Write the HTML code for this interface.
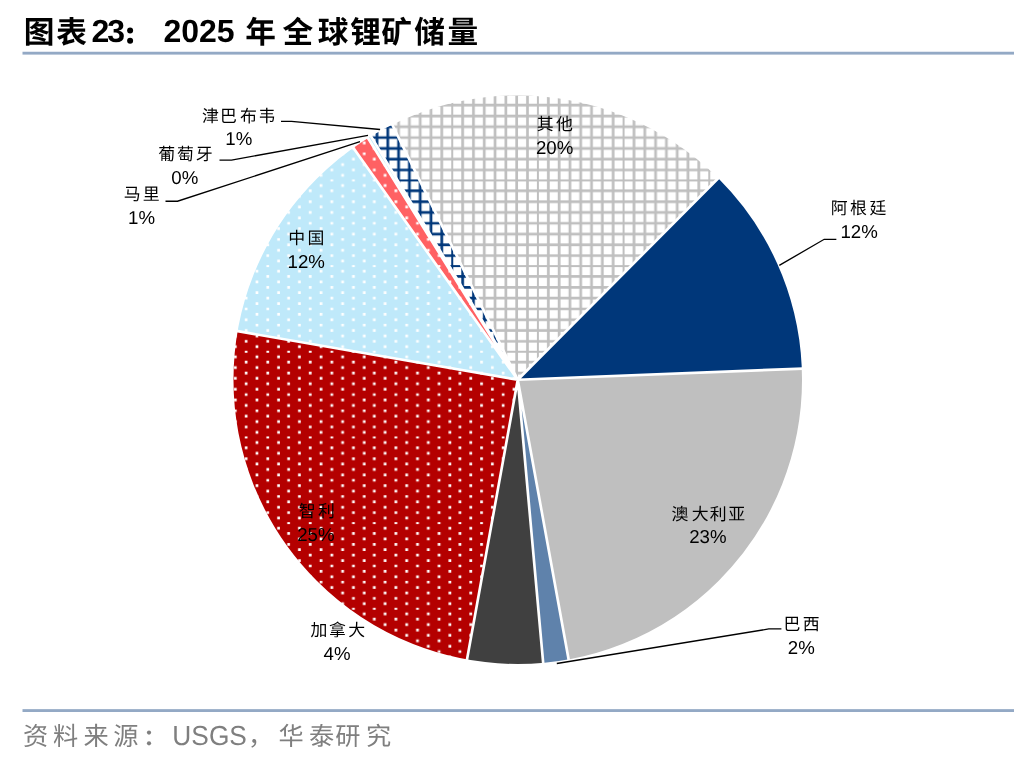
<!DOCTYPE html>
<html><head><meta charset="utf-8"><title>chart</title>
<style>
html,body{margin:0;padding:0;background:#fff}
svg{display:block}
text{font-family:"Liberation Sans","Noto Sans CJK SC",sans-serif;text-rendering:geometricPrecision}
.t{opacity:.999}
.h{fill:none;stroke:none}
</style></head><body>
<svg width="1036" height="760" viewBox="0 0 1036 760" role="img" aria-label="图表23: 2025年全球锂矿储量">
<desc>图表23: 2025年全球锂矿储量 — 其他20%, 阿根廷12%, 澳大利亚23%, 巴西2%, 加拿大4%, 智利25%, 中国12%, 马里1%, 葡萄牙0%, 津巴布韦1%。资料来源:USGS,华泰研究</desc>
<defs>
<pattern id="pRed" patternUnits="userSpaceOnUse" x="22.90" y="8.10" width="85.67" height="85.67"><rect width="86.67" height="86.67" fill="#B40000"/><path d="M7.37 -0.73h2.70v2.70h-2.70zM28.97 -0.73h2.70v2.70h-2.70zM50.57 -0.73h2.70v2.70h-2.70zM72.17 -0.73h2.70v2.70h-2.70zM18.17 4.67h2.70v2.70h-2.70zM39.77 4.67h2.70v2.70h-2.70zM61.37 4.67h2.70v2.70h-2.70zM82.97 4.67h2.70v2.70h-2.70zM7.37 10.07h2.70v2.70h-2.70zM28.97 10.07h2.70v2.70h-2.70zM50.57 10.07h2.70v2.70h-2.70zM72.17 10.07h2.70v2.70h-2.70zM18.17 15.47h2.70v2.70h-2.70zM39.77 15.47h2.70v2.70h-2.70zM61.37 15.47h2.70v2.70h-2.70zM82.97 15.47h2.70v2.70h-2.70zM7.37 20.87h2.70v2.70h-2.70zM28.97 20.87h2.70v2.70h-2.70zM50.57 20.87h2.70v2.70h-2.70zM72.17 20.87h2.70v2.70h-2.70zM18.17 26.27h2.70v2.70h-2.70zM39.77 26.27h2.70v2.70h-2.70zM61.37 26.27h2.70v2.70h-2.70zM82.97 26.27h2.70v2.70h-2.70zM7.37 31.67h2.70v2.70h-2.70zM28.97 31.67h2.70v2.70h-2.70zM50.57 31.67h2.70v2.70h-2.70zM72.17 31.67h2.70v2.70h-2.70zM18.17 37.07h2.70v2.70h-2.70zM39.77 37.07h2.70v2.70h-2.70zM61.37 37.07h2.70v2.70h-2.70zM82.97 37.07h2.70v2.70h-2.70zM7.37 42.47h2.70v2.70h-2.70zM28.97 42.47h2.70v2.70h-2.70zM50.57 42.47h2.70v2.70h-2.70zM72.17 42.47h2.70v2.70h-2.70zM18.17 47.87h2.70v2.70h-2.70zM39.77 47.87h2.70v2.70h-2.70zM61.37 47.87h2.70v2.70h-2.70zM82.97 47.87h2.70v2.70h-2.70zM7.37 53.27h2.70v2.70h-2.70zM28.97 53.27h2.70v2.70h-2.70zM50.57 53.27h2.70v2.70h-2.70zM72.17 53.27h2.70v2.70h-2.70zM18.17 58.67h2.70v2.70h-2.70zM39.77 58.67h2.70v2.70h-2.70zM61.37 58.67h2.70v2.70h-2.70zM82.97 58.67h2.70v2.70h-2.70zM7.37 64.07h2.70v2.70h-2.70zM28.97 64.07h2.70v2.70h-2.70zM50.57 64.07h2.70v2.70h-2.70zM72.17 64.07h2.70v2.70h-2.70zM18.17 69.47h2.70v2.70h-2.70zM39.77 69.47h2.70v2.70h-2.70zM61.37 69.47h2.70v2.70h-2.70zM82.97 69.47h2.70v2.70h-2.70zM7.37 74.87h2.70v2.70h-2.70zM28.97 74.87h2.70v2.70h-2.70zM50.57 74.87h2.70v2.70h-2.70zM72.17 74.87h2.70v2.70h-2.70zM18.17 80.27h2.70v2.70h-2.70zM39.77 80.27h2.70v2.70h-2.70zM61.37 80.27h2.70v2.70h-2.70zM82.97 80.27h2.70v2.70h-2.70z" fill="#fff"/></pattern>
<pattern id="pLblue" patternUnits="userSpaceOnUse" x="22.90" y="8.10" width="85.67" height="85.67"><rect width="86.67" height="86.67" fill="#BFE9FA"/><path d="M7.37 -0.73h2.70v2.70h-2.70zM28.97 -0.73h2.70v2.70h-2.70zM50.57 -0.73h2.70v2.70h-2.70zM72.17 -0.73h2.70v2.70h-2.70zM18.17 4.67h2.70v2.70h-2.70zM39.77 4.67h2.70v2.70h-2.70zM61.37 4.67h2.70v2.70h-2.70zM82.97 4.67h2.70v2.70h-2.70zM7.37 10.07h2.70v2.70h-2.70zM28.97 10.07h2.70v2.70h-2.70zM50.57 10.07h2.70v2.70h-2.70zM72.17 10.07h2.70v2.70h-2.70zM18.17 15.47h2.70v2.70h-2.70zM39.77 15.47h2.70v2.70h-2.70zM61.37 15.47h2.70v2.70h-2.70zM82.97 15.47h2.70v2.70h-2.70zM7.37 20.87h2.70v2.70h-2.70zM28.97 20.87h2.70v2.70h-2.70zM50.57 20.87h2.70v2.70h-2.70zM72.17 20.87h2.70v2.70h-2.70zM18.17 26.27h2.70v2.70h-2.70zM39.77 26.27h2.70v2.70h-2.70zM61.37 26.27h2.70v2.70h-2.70zM82.97 26.27h2.70v2.70h-2.70zM7.37 31.67h2.70v2.70h-2.70zM28.97 31.67h2.70v2.70h-2.70zM50.57 31.67h2.70v2.70h-2.70zM72.17 31.67h2.70v2.70h-2.70zM18.17 37.07h2.70v2.70h-2.70zM39.77 37.07h2.70v2.70h-2.70zM61.37 37.07h2.70v2.70h-2.70zM82.97 37.07h2.70v2.70h-2.70zM7.37 42.47h2.70v2.70h-2.70zM28.97 42.47h2.70v2.70h-2.70zM50.57 42.47h2.70v2.70h-2.70zM72.17 42.47h2.70v2.70h-2.70zM18.17 47.87h2.70v2.70h-2.70zM39.77 47.87h2.70v2.70h-2.70zM61.37 47.87h2.70v2.70h-2.70zM82.97 47.87h2.70v2.70h-2.70zM7.37 53.27h2.70v2.70h-2.70zM28.97 53.27h2.70v2.70h-2.70zM50.57 53.27h2.70v2.70h-2.70zM72.17 53.27h2.70v2.70h-2.70zM18.17 58.67h2.70v2.70h-2.70zM39.77 58.67h2.70v2.70h-2.70zM61.37 58.67h2.70v2.70h-2.70zM82.97 58.67h2.70v2.70h-2.70zM7.37 64.07h2.70v2.70h-2.70zM28.97 64.07h2.70v2.70h-2.70zM50.57 64.07h2.70v2.70h-2.70zM72.17 64.07h2.70v2.70h-2.70zM18.17 69.47h2.70v2.70h-2.70zM39.77 69.47h2.70v2.70h-2.70zM61.37 69.47h2.70v2.70h-2.70zM82.97 69.47h2.70v2.70h-2.70zM7.37 74.87h2.70v2.70h-2.70zM28.97 74.87h2.70v2.70h-2.70zM50.57 74.87h2.70v2.70h-2.70zM72.17 74.87h2.70v2.70h-2.70zM18.17 80.27h2.70v2.70h-2.70zM39.77 80.27h2.70v2.70h-2.70zM61.37 80.27h2.70v2.70h-2.70zM82.97 80.27h2.70v2.70h-2.70z" fill="#fff"/></pattern>
<pattern id="pPink" patternUnits="userSpaceOnUse" x="22.90" y="8.10" width="85.67" height="85.67"><rect width="86.67" height="86.67" fill="#FF6163"/><path d="M7.37 -0.73h2.70v2.70h-2.70zM28.97 -0.73h2.70v2.70h-2.70zM50.57 -0.73h2.70v2.70h-2.70zM72.17 -0.73h2.70v2.70h-2.70zM18.17 4.67h2.70v2.70h-2.70zM39.77 4.67h2.70v2.70h-2.70zM61.37 4.67h2.70v2.70h-2.70zM82.97 4.67h2.70v2.70h-2.70zM7.37 10.07h2.70v2.70h-2.70zM28.97 10.07h2.70v2.70h-2.70zM50.57 10.07h2.70v2.70h-2.70zM72.17 10.07h2.70v2.70h-2.70zM18.17 15.47h2.70v2.70h-2.70zM39.77 15.47h2.70v2.70h-2.70zM61.37 15.47h2.70v2.70h-2.70zM82.97 15.47h2.70v2.70h-2.70zM7.37 20.87h2.70v2.70h-2.70zM28.97 20.87h2.70v2.70h-2.70zM50.57 20.87h2.70v2.70h-2.70zM72.17 20.87h2.70v2.70h-2.70zM18.17 26.27h2.70v2.70h-2.70zM39.77 26.27h2.70v2.70h-2.70zM61.37 26.27h2.70v2.70h-2.70zM82.97 26.27h2.70v2.70h-2.70zM7.37 31.67h2.70v2.70h-2.70zM28.97 31.67h2.70v2.70h-2.70zM50.57 31.67h2.70v2.70h-2.70zM72.17 31.67h2.70v2.70h-2.70zM18.17 37.07h2.70v2.70h-2.70zM39.77 37.07h2.70v2.70h-2.70zM61.37 37.07h2.70v2.70h-2.70zM82.97 37.07h2.70v2.70h-2.70zM7.37 42.47h2.70v2.70h-2.70zM28.97 42.47h2.70v2.70h-2.70zM50.57 42.47h2.70v2.70h-2.70zM72.17 42.47h2.70v2.70h-2.70zM18.17 47.87h2.70v2.70h-2.70zM39.77 47.87h2.70v2.70h-2.70zM61.37 47.87h2.70v2.70h-2.70zM82.97 47.87h2.70v2.70h-2.70zM7.37 53.27h2.70v2.70h-2.70zM28.97 53.27h2.70v2.70h-2.70zM50.57 53.27h2.70v2.70h-2.70zM72.17 53.27h2.70v2.70h-2.70zM18.17 58.67h2.70v2.70h-2.70zM39.77 58.67h2.70v2.70h-2.70zM61.37 58.67h2.70v2.70h-2.70zM82.97 58.67h2.70v2.70h-2.70zM7.37 64.07h2.70v2.70h-2.70zM28.97 64.07h2.70v2.70h-2.70zM50.57 64.07h2.70v2.70h-2.70zM72.17 64.07h2.70v2.70h-2.70zM18.17 69.47h2.70v2.70h-2.70zM39.77 69.47h2.70v2.70h-2.70zM61.37 69.47h2.70v2.70h-2.70zM82.97 69.47h2.70v2.70h-2.70zM7.37 74.87h2.70v2.70h-2.70zM28.97 74.87h2.70v2.70h-2.70zM50.57 74.87h2.70v2.70h-2.70zM72.17 74.87h2.70v2.70h-2.70zM18.17 80.27h2.70v2.70h-2.70zM39.77 80.27h2.70v2.70h-2.70zM61.37 80.27h2.70v2.70h-2.70zM82.97 80.27h2.70v2.70h-2.70z" fill="#fff"/></pattern>
<pattern id="pGrid" patternUnits="userSpaceOnUse" x="22.90" y="8.10" width="85.67" height="85.67"><rect width="86.67" height="86.67" fill="#fff"/><path d="M-0.73 -1h2.70v87.67h-2.70zM-1 -0.73h87.67v2.70h-87.67zM10.07 -1h2.70v87.67h-2.70zM-1 10.07h87.67v2.70h-87.67zM20.87 -1h2.70v87.67h-2.70zM-1 20.87h87.67v2.70h-87.67zM31.67 -1h2.70v87.67h-2.70zM-1 31.67h87.67v2.70h-87.67zM42.47 -1h2.70v87.67h-2.70zM-1 42.47h87.67v2.70h-87.67zM53.27 -1h2.70v87.67h-2.70zM-1 53.27h87.67v2.70h-87.67zM64.07 -1h2.70v87.67h-2.70zM-1 64.07h87.67v2.70h-87.67zM74.87 -1h2.70v87.67h-2.70zM-1 74.87h87.67v2.70h-87.67z" fill="#BFBFBF"/></pattern>
<pattern id="pNavyGrid" patternUnits="userSpaceOnUse" x="22.90" y="8.10" width="85.67" height="85.67"><rect width="86.67" height="86.67" fill="#fff"/><path d="M-0.73 -1h2.70v87.67h-2.70zM-1 -0.73h87.67v2.70h-87.67zM10.07 -1h2.70v87.67h-2.70zM-1 10.07h87.67v2.70h-87.67zM20.87 -1h2.70v87.67h-2.70zM-1 20.87h87.67v2.70h-87.67zM31.67 -1h2.70v87.67h-2.70zM-1 31.67h87.67v2.70h-87.67zM42.47 -1h2.70v87.67h-2.70zM-1 42.47h87.67v2.70h-87.67zM53.27 -1h2.70v87.67h-2.70zM-1 53.27h87.67v2.70h-87.67zM64.07 -1h2.70v87.67h-2.70zM-1 64.07h87.67v2.70h-87.67zM74.87 -1h2.70v87.67h-2.70zM-1 74.87h87.67v2.70h-87.67z" fill="#00377A"/></pattern>
<clipPath id="c0"><path d="M517.75 379.75 L391.66 123.49 A285.60 285.60 0 0 1 719.21 177.31 Z"/></clipPath>
<clipPath id="c5"><path d="M517.75 379.75 L466.78 660.77 A285.60 285.60 0 0 1 236.35 330.94 Z"/></clipPath>
<clipPath id="c6"><path d="M517.75 379.75 L236.35 330.94 A285.60 285.60 0 0 1 352.55 146.78 Z"/></clipPath>
<clipPath id="c7"><path d="M517.75 379.75 L352.55 146.78 A285.60 285.60 0 0 1 367.34 136.97 Z"/></clipPath>
<clipPath id="c8"><path d="M517.75 379.75 L367.34 136.97 A285.60 285.60 0 0 1 370.31 135.15 Z"/></clipPath>
<clipPath id="c9"><path d="M517.75 379.75 L370.31 135.15 A285.60 285.60 0 0 1 391.66 123.49 Z"/></clipPath>
<filter id="soft" x="0" y="0" width="1" height="1" color-interpolation-filters="sRGB"><feGaussianBlur stdDeviation="0.65"/></filter>
</defs>
<rect width="1036" height="760" fill="#fff"/>
<g clip-path="url(#c0)"><rect x="224.1" y="86.1" width="587.2" height="587.2" fill="url(#pGrid)" filter="url(#soft)"/></g>
<path d="M517.75 379.75 L719.21 177.31 A285.60 285.60 0 0 1 803.13 368.59 Z" fill="#00377A"/>
<path d="M517.75 379.75 L803.13 368.59 A285.60 285.60 0 0 1 568.86 660.74 Z" fill="#BFBFBF"/>
<path d="M517.75 379.75 L568.86 660.74 A285.60 285.60 0 0 1 543.29 664.21 Z" fill="#5F82AB"/>
<path d="M517.75 379.75 L543.29 664.21 A285.60 285.60 0 0 1 466.78 660.77 Z" fill="#404040"/>
<g clip-path="url(#c5)"><rect x="224.1" y="86.1" width="587.2" height="587.2" fill="url(#pRed)" filter="url(#soft)"/></g>
<g clip-path="url(#c6)"><rect x="224.1" y="86.1" width="587.2" height="587.2" fill="url(#pLblue)" filter="url(#soft)"/></g>
<g clip-path="url(#c7)"><rect x="224.1" y="86.1" width="587.2" height="587.2" fill="url(#pPink)" filter="url(#soft)"/></g>
<g clip-path="url(#c8)"><rect x="224.1" y="86.1" width="587.2" height="587.2" fill="url(#pLblue)" filter="url(#soft)"/></g>
<g clip-path="url(#c9)"><rect x="224.1" y="86.1" width="587.2" height="587.2" fill="url(#pNavyGrid)" filter="url(#soft)"/></g>
<path d="M517.75 379.75L391.66 123.49M517.75 379.75L719.21 177.31M517.75 379.75L803.13 368.59M517.75 379.75L568.86 660.74M517.75 379.75L543.29 664.21M517.75 379.75L466.78 660.77M517.75 379.75L236.35 330.94M517.75 379.75L352.55 146.78M517.75 379.75L367.34 136.97M517.75 379.75L370.31 135.15" stroke="#fff" stroke-width="2.67" fill="none"/>
<circle cx="517.75" cy="379.75" r="285.60" stroke="#fff" stroke-width="2.67" fill="none"/>
<polyline points="281.00,121.35 291.50,121.35 380.10,129.50" fill="none" stroke="#000" stroke-width="1.33"/>
<polyline points="219.50,160.05 231.50,160.05 368.00,135.40" fill="none" stroke="#000" stroke-width="1.33"/>
<polyline points="165.50,201.25 177.50,201.25 360.00,141.60" fill="none" stroke="#000" stroke-width="1.33"/>
<polyline points="836.35,239.30 824.20,239.30 779.30,265.40" fill="none" stroke="#000" stroke-width="1.33"/>
<polyline points="781.40,628.95 768.80,628.95 556.80,663.50" fill="none" stroke="#000" stroke-width="1.33"/>
<text class="t" x="202.03 220.03 239.92 258.60" y="121.65" font-size="16.9" fill="#000">津巴布韦</text>
<text class="t" x="225.30" y="145.00" font-size="18.67" font-weight="normal" fill="#000">1%</text>
<text class="t" x="158.19 176.88 195.81" y="159.63" font-size="16.9" fill="#000">葡萄牙</text>
<text class="t" x="171.28" y="183.50" font-size="18.67" font-weight="normal" fill="#000">0%</text>
<text class="t" x="123.79 142.64" y="199.85" font-size="16.9" fill="#000">马里</text>
<text class="t" x="128.03" y="223.70" font-size="18.67" font-weight="normal" fill="#000">1%</text>
<text class="t" x="288.32 307.46" y="244.41" font-size="16.9" fill="#000">中国</text>
<text class="t" x="287.59" y="268.00" font-size="18.67" font-weight="normal" fill="#000">12%</text>
<text class="t" x="536.82 555.94" y="129.91" font-size="16.9" fill="#000">其他</text>
<text class="t" x="535.93" y="153.50" font-size="18.67" font-weight="normal" fill="#000">20%</text>
<text class="t" x="830.68 850.08 869.52" y="214.05" font-size="16.9" fill="#000">阿根廷</text>
<text class="t" x="840.49" y="238.30" font-size="18.67" font-weight="normal" fill="#000">12%</text>
<text class="t" x="671.51 691.66 709.66 728.13" y="519.51" font-size="16.9" fill="#000">澳大利亚</text>
<text class="t" x="689.13" y="543.40" font-size="18.67" font-weight="normal" fill="#000">23%</text>
<text class="t" x="783.53 802.87" y="629.80" font-size="16.9" fill="#000">巴西</text>
<text class="t" x="787.77" y="654.00" font-size="18.67" font-weight="normal" fill="#000">2%</text>
<text class="t" x="310.45 329.01 348.28" y="636.02" font-size="16.9" fill="#000">加拿大</text>
<text class="t" x="323.55" y="659.70" font-size="18.67" font-weight="normal" fill="#000">4%</text>
<text class="t" x="298.66 317.96" y="517.19" font-size="16.9" fill="#000">智利</text>
<text class="t" x="297.13" y="541.40" font-size="18.67" font-weight="normal" fill="#000">25%</text>
<text class="t" x="23.74 56.21" y="42.67" font-size="30.7" font-weight="bold" fill="#000">图表</text>
<text class="t" x="245.19 282.60 317.77 350.35 381.30 414.21 447.62" y="42.67" font-size="30.7" font-weight="bold" fill="#000">年全球锂矿储量</text>
<text class="t" x="91.59" y="42.40" font-size="32.00" font-weight="bold" fill="#000">2</text>
<text class="t" x="107.17" y="42.40" font-size="32.00" font-weight="bold" fill="#000">3</text>
<circle cx="130.1" cy="30.6" r="3" fill="#000"/><circle cx="130.1" cy="40.8" r="3" fill="#000"/>
<text class="t" x="163.39" y="42.40" font-size="32.00" font-weight="bold" fill="#000">2025</text>
<rect x="22.5" y="51.75" width="991.5" height="2.85" fill="#93A9C5"/>
<rect x="22.5" y="709.15" width="991.5" height="2.85" fill="#93A9C5"/>
<text class="t" x="23.03 52.90 83.46 113.24" y="745.40" font-size="25.2" fill="#7F7F7F">资料来源</text>
<text class="t" x="278.55 308.94 335.17 365.90" y="745.40" font-size="25.2" fill="#7F7F7F">华泰研究</text>
<circle cx="149" cy="732.6" r="2.1" fill="#7F7F7F"/><circle cx="149" cy="743.3" r="2.1" fill="#7F7F7F"/>
<text class="t" x="172.37" y="745.30" font-size="27.50" font-weight="normal" fill="#7F7F7F" textLength="74.54" lengthAdjust="spacingAndGlyphs">USGS</text>
<text class="t" x="248" y="745.40" font-size="25.2" fill="#7F7F7F">，</text>
</svg>
</body></html>
